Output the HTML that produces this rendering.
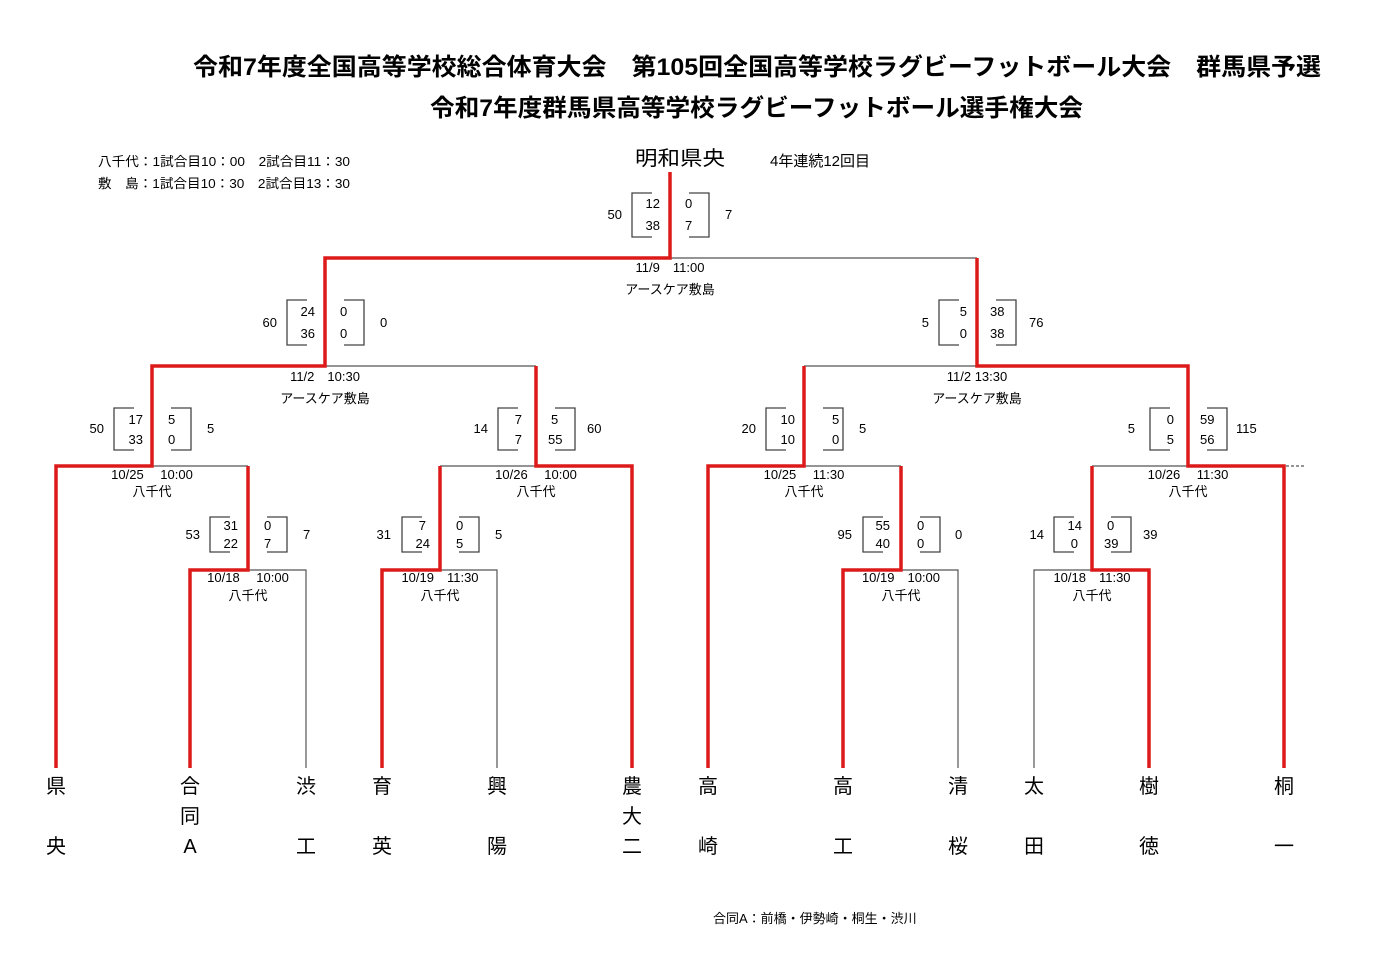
<!DOCTYPE html>
<html><head><meta charset="utf-8"><style>
html,body{margin:0;padding:0;background:#fff;}
svg{display:block;}
text{font-family:"Liberation Sans","Noto Sans CJK JP",sans-serif;fill:#000;}
.t{font-size:13px;}
.n{font-size:20px;}
</style></head><body>
<svg width="1394" height="964" viewBox="0 0 1394 964" xmlns="http://www.w3.org/2000/svg">
<text x="193" y="75" font-size="24" font-weight="bold" textLength="1128" lengthAdjust="spacingAndGlyphs">令和7年度全国高等学校総合体育大会　第105回全国高等学校ラグビーフットボール大会　群馬県予選</text>
<text x="430" y="116" font-size="24" font-weight="bold" textLength="653" lengthAdjust="spacingAndGlyphs">令和7年度群馬県高等学校ラグビーフットボール選手権大会</text>
<text x="98" y="166" class="t" textLength="252" lengthAdjust="spacingAndGlyphs">八千代：1試合目10：00　2試合目11：30</text>
<text x="98" y="188" class="t" textLength="252" lengthAdjust="spacingAndGlyphs">敷　島：1試合目10：30　2試合目13：30</text>
<text x="635" y="165" font-size="20" textLength="90" lengthAdjust="spacingAndGlyphs">明和県央</text>
<text x="770" y="166" font-size="15">4年連続12回目</text>
<text x="713" y="923" class="t">合同A：前橋・伊勢崎・桐生・渋川</text>

<g stroke="#555" stroke-width="1.2" fill="none">
<path d="M670 258 H977"/>
<path d="M325 366 H536"/>
<path d="M804 366 H977"/>
<path d="M152 466 H248"/>
<path d="M440 466 H536"/>
<path d="M804 466 H901"/>
<path d="M1092 466 H1188"/>
<path d="M248 570 H306 V768"/>
<path d="M440 570 H497 V768"/>
<path d="M901 570 H958 V768"/>
<path d="M1034 768 V570 H1092"/>
<path d="M1286 466 H1304" stroke-dasharray="3,2"/>
</g>
<g stroke="#dd1a1a" stroke-width="3.5" fill="none" stroke-linejoin="miter">
<path d="M670 172 V258 H325 V366 H152 V466 H56 V768"/>
<path d="M190 768 V570 H248 V466"/>
<path d="M382 768 V570 H440 V466"/>
<path d="M632 768 V466 H536 V366"/>
<path d="M708 768 V466 H804 V366"/>
<path d="M843 768 V570 H901 V466"/>
<path d="M1149 768 V570 H1092 V466"/>
<path d="M1284 768 V466 H1188 V366 H977 V258"/>
</g>

<g stroke="#444" stroke-width="1.3" fill="none">
<path d="M652 193 H632 V237 H652 M689 193 H709 V237 H689"/>
<path d="M307 300 H287 V345 H307 M344 300 H364 V345 H344"/>
<path d="M959 300 H939 V345 H959 M996 300 H1016 V345 H996"/>
<path d="M134 408 H114 V450 H134 M171 408 H191 V450 H171"/>
<path d="M518 408 H498 V450 H518 M555 408 H575 V450 H555"/>
<path d="M786 408 H766 V450 H786 M823 408 H843 V450 H823"/>
<path d="M1170 408 H1150 V450 H1170 M1207 408 H1227 V450 H1207"/>
<path d="M230 517 H210 V552 H230 M267 517 H287 V552 H267"/>
<path d="M422 517 H402 V552 H422 M459 517 H479 V552 H459"/>
<path d="M883 517 H863 V552 H883 M920 517 H940 V552 H920"/>
<path d="M1074 517 H1054 V552 H1074 M1111 517 H1131 V552 H1111"/>
</g>
<g class="t">
<text x="622" y="219" text-anchor="end" class="t">50</text>
<text x="660" y="208" text-anchor="end" class="t">12</text><text x="660" y="230" text-anchor="end" class="t">38</text>
<text x="685" y="208" class="t">0</text><text x="685" y="230" class="t">7</text>
<text x="725" y="219" class="t">7</text>
<text x="277" y="327" text-anchor="end" class="t">60</text>
<text x="315" y="316" text-anchor="end" class="t">24</text><text x="315" y="338" text-anchor="end" class="t">36</text>
<text x="340" y="316" class="t">0</text><text x="340" y="338" class="t">0</text>
<text x="380" y="327" class="t">0</text>
<text x="929" y="327" text-anchor="end" class="t">5</text>
<text x="967" y="316" text-anchor="end" class="t">5</text><text x="967" y="338" text-anchor="end" class="t">0</text>
<text x="990" y="316" class="t">38</text><text x="990" y="338" class="t">38</text>
<text x="1029" y="327" class="t">76</text>
<text x="104" y="433" text-anchor="end" class="t">50</text>
<text x="143" y="424" text-anchor="end" class="t">17</text><text x="143" y="444" text-anchor="end" class="t">33</text>
<text x="168" y="424" class="t">5</text><text x="168" y="444" class="t">0</text>
<text x="207" y="433" class="t">5</text>
<text x="488" y="433" text-anchor="end" class="t">14</text>
<text x="522" y="424" text-anchor="end" class="t">7</text><text x="522" y="444" text-anchor="end" class="t">7</text>
<text x="551" y="424" class="t">5</text><text x="548" y="444" class="t">55</text>
<text x="587" y="433" class="t">60</text>
<text x="756" y="433" text-anchor="end" class="t">20</text>
<text x="795" y="424" text-anchor="end" class="t">10</text><text x="795" y="444" text-anchor="end" class="t">10</text>
<text x="832" y="424" class="t">5</text><text x="832" y="444" class="t">0</text>
<text x="859" y="433" class="t">5</text>
<text x="1135" y="433" text-anchor="end" class="t">5</text>
<text x="1174" y="424" text-anchor="end" class="t">0</text><text x="1174" y="444" text-anchor="end" class="t">5</text>
<text x="1200" y="424" class="t">59</text><text x="1200" y="444" class="t">56</text>
<text x="1236" y="433" class="t">115</text>
<text x="200" y="539" text-anchor="end" class="t">53</text>
<text x="238" y="530" text-anchor="end" class="t">31</text><text x="238" y="548" text-anchor="end" class="t">22</text>
<text x="264" y="530" class="t">0</text><text x="264" y="548" class="t">7</text>
<text x="303" y="539" class="t">7</text>
<text x="391" y="539" text-anchor="end" class="t">31</text>
<text x="426" y="530" text-anchor="end" class="t">7</text><text x="430" y="548" text-anchor="end" class="t">24</text>
<text x="456" y="530" class="t">0</text><text x="456" y="548" class="t">5</text>
<text x="495" y="539" class="t">5</text>
<text x="852" y="539" text-anchor="end" class="t">95</text>
<text x="890" y="530" text-anchor="end" class="t">55</text><text x="890" y="548" text-anchor="end" class="t">40</text>
<text x="917" y="530" class="t">0</text><text x="917" y="548" class="t">0</text>
<text x="955" y="539" class="t">0</text>
<text x="1044" y="539" text-anchor="end" class="t">14</text>
<text x="1082" y="530" text-anchor="end" class="t">14</text><text x="1078" y="548" text-anchor="end" class="t">0</text>
<text x="1107" y="530" class="t">0</text><text x="1104" y="548" class="t">39</text>
<text x="1143" y="539" class="t">39</text>
</g>

<g class="t" text-anchor="middle">
<text x="670" y="272" class="t">11/9　11:00</text><text x="670" y="294" class="t">アースケア敷島</text>
<text x="325" y="381" class="t">11/2　10:30</text><text x="325" y="403" class="t">アースケア敷島</text>
<text x="977" y="381" class="t">11/2 13:30</text><text x="977" y="403" class="t">アースケア敷島</text>
<text x="152" y="479" class="t">10/25　 10:00</text><text x="152" y="496" class="t">八千代</text>
<text x="536" y="479" class="t">10/26　 10:00</text><text x="536" y="496" class="t">八千代</text>
<text x="804" y="479" class="t">10/25　 11:30</text><text x="804" y="496" class="t">八千代</text>
<text x="1188" y="479" class="t">10/26　 11:30</text><text x="1188" y="496" class="t">八千代</text>
<text x="248" y="582" class="t">10/18　 10:00</text><text x="248" y="600" class="t">八千代</text>
<text x="440" y="582" class="t">10/19　11:30</text><text x="440" y="600" class="t">八千代</text>
<text x="901" y="582" class="t">10/19　10:00</text><text x="901" y="600" class="t">八千代</text>
<text x="1092" y="582" class="t">10/18　11:30</text><text x="1092" y="600" class="t">八千代</text>
</g>

<g text-anchor="middle">
<text x="56" y="793" class="n">県</text><text x="56" y="853" class="n">央</text>
<text x="190" y="793" class="n">合</text><text x="190" y="823" class="n">同</text><text x="190" y="853" class="n">A</text>
<text x="306" y="793" class="n">渋</text><text x="306" y="853" class="n">工</text>
<text x="382" y="793" class="n">育</text><text x="382" y="853" class="n">英</text>
<text x="497" y="793" class="n">興</text><text x="497" y="853" class="n">陽</text>
<text x="632" y="793" class="n">農</text><text x="632" y="823" class="n">大</text><text x="632" y="853" class="n">二</text>
<text x="708" y="793" class="n">高</text><text x="708" y="853" class="n">崎</text>
<text x="843" y="793" class="n">高</text><text x="843" y="853" class="n">工</text>
<text x="958" y="793" class="n">清</text><text x="958" y="853" class="n">桜</text>
<text x="1034" y="793" class="n">太</text><text x="1034" y="853" class="n">田</text>
<text x="1149" y="793" class="n">樹</text><text x="1149" y="853" class="n">徳</text>
<text x="1284" y="793" class="n">桐</text><text x="1284" y="853" class="n">一</text>
</g>
</svg>
</body></html>
